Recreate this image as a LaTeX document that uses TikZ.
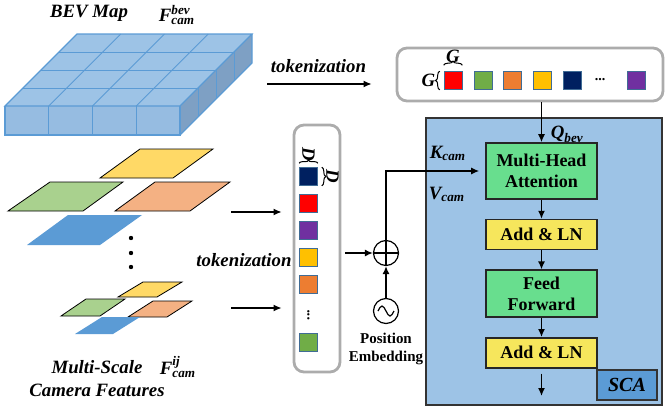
\documentclass[tikz,border=0pt]{standalone}
\usepackage{fontspec}
\setmainfont{Liberation Serif}
\usepackage{amsmath}
\usepackage{tikz}
\usetikzlibrary{arrows.meta,positioning,calc,decorations.pathreplacing}
\definecolor{bevtop}{RGB}{157,195,230}
\definecolor{bevfront}{RGB}{150,188,225}
\definecolor{bevside}{RGB}{126,160,196}
\definecolor{bevline}{RGB}{91,155,213}
\definecolor{fyellow}{RGB}{255,217,102}
\definecolor{fgreen}{RGB}{169,209,142}
\definecolor{forange}{RGB}{244,177,131}
\definecolor{fblue}{RGB}{91,155,213}
\definecolor{tkred}{RGB}{255,0,0}
\definecolor{tkgreen}{RGB}{112,173,71}
\definecolor{tkorange}{RGB}{237,125,49}
\definecolor{tkyellow}{RGB}{255,192,0}
\definecolor{tknavy}{RGB}{0,32,96}
\definecolor{tkpurple}{RGB}{112,48,160}
\definecolor{blockgreen}{RGB}{104,222,142}
\definecolor{blockyellow}{RGB}{246,230,92}
\newcommand{\bi}[1]{\textbf{\textit{#1}}}
\newcommand{\feat}[3]{$\text{\bi{#1}}^{\text{\bi{#2}}}_{\text{\bi{#3}}}$}

\begin{document}
\begin{tikzpicture}[x=0.5pt, y=-0.5pt,
    lbl/.style={font=\fontsize{9.4}{11.5}\selectfont\bfseries\itshape},
    token/.style={draw=bevline!70!black, line width=0.3pt, minimum size=9pt, inner sep=0pt},
    tokbox/.style={draw=gray!65, line width=1.4pt, rounded corners=5pt, fill=white},
    block/.style={draw=black!85, line width=0.8pt, minimum width=55.5pt, inner sep=1pt,
      align=center, font=\fontsize{9}{10.5}\selectfont\bfseries},
    arr/.style={-{Latex[length=4pt,width=3.5pt]}, line width=0.7pt},
    plane/.style={draw=black, line width=0.4pt},
    node distance=9.5pt]
  \useasboundingbox (0,0) rectangle (665,413);

  % BEV map
  \coordinate (b1) at (5,106);
  \coordinate (b2) at (180,106);
  \coordinate (b3) at (252,34);
  \coordinate (b4) at (77,34);
  \fill[bevtop] (b1) -- (b2) -- (b3) -- (b4) -- cycle;
  \fill[bevfront] (b1) -- (b2) -- ++(0,29) -- (5,135) -- cycle;
  \fill[bevside] (b2) -- (b3) -- ++(0,29) -- (180,135) -- cycle;
  \foreach \k in {1,2,3} {
    \draw[bevline, line width=0.5pt] ($(b1)!\k/4!(b2)$) -- ($(b4)!\k/4!(b3)$);
    \draw[bevline, line width=0.5pt] ($(b1)!\k/4!(b4)$) -- ($(b2)!\k/4!(b3)$);
    \draw[bevline, line width=0.5pt] ($(b1)!\k/4!(b2)$) -- ++(0,29);
    \draw[bevline, line width=0.5pt] ($(b2)!\k/4!(b3)$) -- ++(0,29);
  }
  \draw[bevline, line width=0.6pt] (b1) -- (b2) -- (b3) -- (b4) -- cycle;
  \draw[bevline, line width=0.6pt] (b1) -- (5,135) -- (180,135) -- (b2);
  \draw[bevline, line width=0.6pt] (180,135) -- (252,63) -- (b3);
  \node[lbl] (bevtxt) at (89,13) {BEV Map};
  \node[lbl] (bevf) at (177,15) {\feat{F}{bev}{cam}};

  % multi-scale features, large
  \filldraw[plane, fill=fyellow] (100,178) -- (173,178) -- (213,149) -- (140,149) -- cycle;
  \filldraw[plane, fill=fgreen] (8,211) -- (83,211) -- (123,182) -- (50,182) -- cycle;
  \filldraw[plane, fill=forange] (115,211) -- (190,211) -- (230,182) -- (155,182) -- cycle;
  \fill[fblue] (27,245) -- (100,245) -- (142,215) -- (68,215) -- cycle;
  \foreach \y in {238,253,267} \fill (131,\y) circle (1.1pt);
  % multi-scale features, small
  \filldraw[plane, fill=fyellow] (118,297) -- (157,297) -- (182,282) -- (143,282) -- cycle;
  \filldraw[plane, fill=fgreen] (61,316) -- (100,316) -- (125,299) -- (86,299) -- cycle;
  \filldraw[plane, fill=forange] (128,317) -- (167,317) -- (192,301) -- (153,301) -- cycle;
  \fill[fblue] (75,334) -- (113,334) -- (140,317) -- (102,317) -- cycle;
  \node[lbl, align=center] (mstxt) at (97,379) {Multi-Scale\\Camera Features};
  \node[lbl] (msf) at (178,367) {\feat{F}{ij}{cam}};

  % token row
  \node[tokbox, minimum width=133pt, minimum height=26.5pt] (rowbox) at (530,74.5) {};
  \foreach \c [count=\i] in {tkred,tkgreen,tkorange,tkyellow,tknavy}
    \node[token, fill=\c] (r\i) at ({453+29.8*(\i-1)},80.5) {};
  \node[font=\fontsize{7}{7}\selectfont\bfseries, inner sep=0pt] (rdots) at (600,80) {\textbf{...}};
  \node[token, fill=tkpurple] (r6) at (636.5,80.5) {};
  \draw[decorate, decoration={brace, amplitude=2pt}, line width=0.5pt]
    ([yshift=3pt]r1.north west) -- ([yshift=3pt]r1.north east)
    node[lbl, midway, above=1pt, inner sep=0pt] (gtop) {G};
  \draw[decorate, decoration={brace, amplitude=2pt}, line width=0.5pt]
    ([xshift=-2pt]r1.south west) -- ([xshift=-2pt]r1.north west)
    node[lbl, midway, left=2pt, inner sep=0pt] (gleft) {G};
  \coordinate (ta) at (267,84);
  \draw[arr, shorten >=12pt] (ta) -- (ta -| rowbox.west) node[lbl, pos=0.4, above=2pt] (tok1) {tokenization};

  % token column
  \node[tokbox, minimum width=23pt, minimum height=123.5pt] (colbox) at (317,248.5) {};
  \foreach \c [count=\i] in {tknavy,tkred,tkpurple,tkyellow,tkorange}
    \node[token, fill=\c] (c\i) at (308.5,{176.5+27*(\i-1)}) {};
  \node[font=\fontsize{7}{7}\selectfont\bfseries, inner sep=0pt, rotate=90] (cdots) at (308.5,315) {\textbf{...}};
  \node[token, fill=tkgreen] (c6) at (308.5,342.5) {};
  \draw[decorate, decoration={brace, amplitude=1.5pt}, line width=0.5pt]
    ([yshift=2pt]c1.north west) -- ([yshift=2pt]c1.north east)
    node[lbl, midway, above=1pt, inner sep=0pt, rotate=-90, anchor=east] (dtop) {D};
  \draw[decorate, decoration={brace, amplitude=2pt}, line width=0.5pt]
    ([xshift=2pt]c1.north east) -- ([xshift=2pt]c1.south east)
    node[lbl, midway, right=2pt, inner sep=0pt, rotate=-90, anchor=south] (dright) {D};
  \coordinate (fa) at (231,212);
  \coordinate (fb) at (231,308);
  \draw[arr, shorten >=5.5pt] (fa) -- (fa -| colbox.west);
  \draw[arr, shorten >=5.5pt] (fb) -- (fb -| colbox.west);
  \node[lbl] (tok2) at (244,260) {tokenization};

  % position embedding
  \node[circle, draw, line width=0.6pt, minimum size=12.5pt, inner sep=0pt,
    path picture={\draw[line width=0.6pt] (path picture bounding box.north) -- (path picture bounding box.south)
      (path picture bounding box.west) -- (path picture bounding box.east);}] (plus) at (386,253) {};
  \node[circle, draw, line width=0.6pt, minimum size=12.5pt, inner sep=0pt] (pe) at (386,311) {};
  \draw[line width=0.6pt] ($(pe.center)+(-8,0)$) sin ($(pe.center)+(-4,-5)$) cos (pe.center)
    sin ($(pe.center)+(4,5)$) cos ($(pe.center)+(8,0)$);
  \node[font=\fontsize{7.5}{9}\selectfont\bfseries, align=center, below=1pt of pe] (petxt) {Position\\Embedding};
  \draw[arr] (pe.north) -- (plus.south);
  \draw[arr, shorten <=2pt] (colbox.east |- plus.west) -- (plus.west);

  % SCA block
  \node[draw=black!80, line width=0.8pt, fill=bevtop, minimum width=118pt, minimum height=143.5pt] (sca) at (544,261.5) {};
  \node[block, fill=blockgreen, minimum height=28pt] (mha) at (541.5,171) {Multi-Head\\Attention};
  \node[block, fill=blockyellow, minimum height=15pt, below=of mha] (add1) {Add \& LN};
  \node[block, fill=blockgreen, minimum height=23.5pt, below=of add1] (ffn) {Feed\\Forward};
  \node[block, fill=blockyellow, minimum height=15pt, below=of ffn] (add2) {Add \& LN};
  \node[draw=black!80, line width=0.8pt, fill=fblue, minimum width=30pt, minimum height=15pt,
    font=\fontsize{10}{10}\selectfont\bfseries\itshape] (scatxt) at (627,385) {SCA};
  \draw[arr] (mha) -- (add1);
  \draw[arr] (add1) -- (ffn);
  \draw[arr] (ffn) -- (add2);
  \coordinate (out) at (541.5,396);
  \draw[arr, shorten <=2.5pt] (add2) -- (out);
  \draw[arr] (rowbox.south -| mha.north) -- (mha.north) node[lbl, pos=0.8, right=1pt] (qbev) {$\text{\bi{Q}}_{\text{\bi{bev}}}$};
  \draw[arr, shorten >=3pt] (plus.north) |- (mha.west);
  \node[lbl] (kcam) at (448,153) {$\text{\bi{K}}_{\text{\bi{cam}}}$};
  \node[lbl] (vcam) at (447,194) {$\text{\bi{V}}_{\text{\bi{cam}}}$};
\end{tikzpicture}
\end{document}
